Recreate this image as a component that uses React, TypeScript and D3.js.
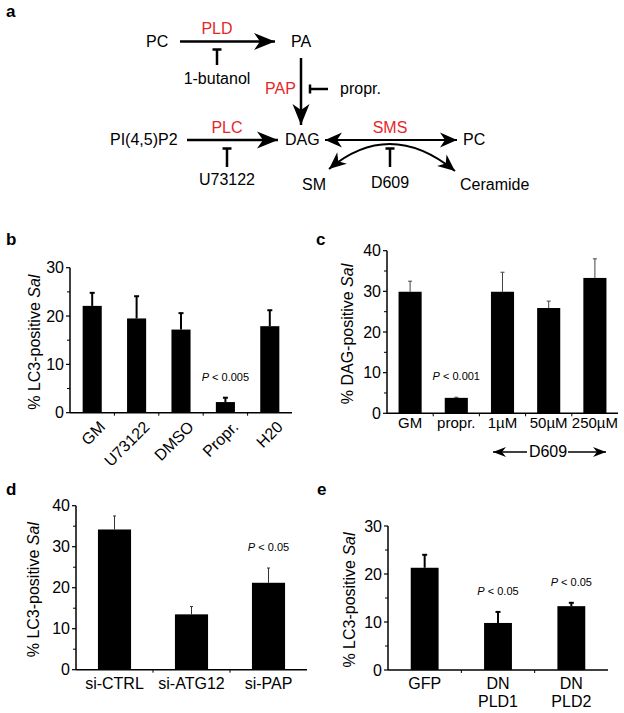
import React from 'react';
import * as d3 from 'd3';

// panel b
const bCats = ['GM', 'U73122', 'DMSO', 'Propr.', 'H20'];
const bVals = [22.1, 19.5, 17.2, 2.2, 17.9];
const bErr = [2.7, 4.6, 3.4, 0.9, 3.3];
const bTicks = [0, 10, 20, 30];

// panel c
const cCats = ['GM', 'propr.', '1µM', '50µM', '250µM'];
const cVals = [29.9, 3.8, 29.9, 25.9, 33.3];
const cErr = [2.6, 0.15, 4.8, 1.7, 4.7];
const cTicks = [0, 10, 20, 30, 40];

// panel d
const dCats = ['si-CTRL', 'si-ATG12', 'si-PAP'];
const dVals = [34.2, 13.5, 21.2];
const dErr = [3.3, 1.9, 3.6];
const dTicks = [0, 10, 20, 30, 40];

// panel e
const eCats = ['GFP', 'DN|PLD1', 'DN|PLD2'];
const eVals = [21.3, 9.8, 13.3];
const eErr = [2.7, 2.3, 0.7];
const eTicks = [0, 10, 20, 30];

const FONT = '"Liberation Sans", Arial, Helvetica, sans-serif';
const RED = '#e8252b';

type PanelProps = {
  cats: string[];
  vals: number[];
  errs: number[];
  ticks: number[];
  pvals: (string | null)[];
  x0: number;
  x1: number;
  yBottom: number;
  yTop: number;
  pad: number;
  ylabel: string;
  ylabelX: number;
  rotateLabels?: boolean;
  labelY: number;
  labelSize?: number;
  errW: number;
  capW: number;
  errColor: string;
};

const Panel = (p: PanelProps) => {
  const max = p.ticks[p.ticks.length - 1];
  const y = d3.scaleLinear().domain([0, max]).range([p.yBottom, p.yTop]);
  const x = d3
    .scaleBand()
    .domain(p.cats)
    .range([p.x0, p.x1])
    .paddingInner(p.pad)
    .paddingOuter(p.pad / 2);
  const step = x.step();
  const bw = x.bandwidth();
  // minor ticks halfway between the labelled ones
  const minor = d3.range(5, max, 10);
  const ls = p.labelSize || 16;

  return (
    <g>
      {p.cats.map((c, i) => {
        const bx = x(c) as number;
        const cx = bx + bw / 2;
        const top = y(p.vals[i] + p.errs[i]);
        return (
          <g key={c}>
            <line x1={cx} x2={cx} y1={y(p.vals[i])} y2={top} stroke={p.errColor} strokeWidth={p.errW} />
            <line x1={cx - p.capW / 2} x2={cx + p.capW / 2} y1={top} y2={top} stroke={p.errColor} strokeWidth={p.errW} />
            <rect x={bx} y={y(p.vals[i])} width={bw} height={p.yBottom - y(p.vals[i])} fill="#000" />
            {p.pvals[i] && (
              <text x={cx} y={top - 17} textAnchor="middle" fontSize={11}>
                <tspan fontStyle="italic">P</tspan>
                {' < ' + p.pvals[i]}
              </text>
            )}
          </g>
        );
      })}
      {/* y axis */}
      <line x1={p.x0} x2={p.x0} y1={p.yBottom} y2={p.yTop} stroke="#000" strokeWidth={1.5} />
      {p.ticks.map((t) => (
        <g key={t}>
          <line x1={p.x0 - 4} x2={p.x0} y1={y(t)} y2={y(t)} stroke="#000" strokeWidth={1.2} />
          <text x={p.x0 - 6} y={y(t)} dy="0.36em" textAnchor="end" fontSize={16}>
            {t}
          </text>
        </g>
      ))}
      {minor.map((t) => (
        <line key={'m' + t} x1={p.x0 - 3} x2={p.x0} y1={y(t)} y2={y(t)} stroke="#000" strokeWidth={1} />
      ))}
      {/* x axis */}
      <line x1={p.x0} x2={p.x1} y1={p.yBottom} y2={p.yBottom} stroke="#000" strokeWidth={1.5} />
      {d3.range(1, p.cats.length).map((i) => (
        <line key={i} x1={p.x0 + i * step} x2={p.x0 + i * step} y1={p.yBottom} y2={p.yBottom + 3} stroke="#000" strokeWidth={1} />
      ))}
      {p.cats.map((c) => {
        const cx = (x(c) as number) + bw / 2;
        if (p.rotateLabels) {
          return (
            <text key={c} transform={`translate(${cx + 6},${p.labelY}) rotate(-45)`} textAnchor="end" dy="0.7em" fontSize={ls}>
              {c}
            </text>
          );
        }
        return (
          <text key={c} x={cx} y={p.labelY} textAnchor="middle" fontSize={ls}>
            {c.split('|').map((s, k) => (
              <tspan key={k} x={cx} dy={k === 0 ? 0 : 18}>
                {s}
              </tspan>
            ))}
          </text>
        );
      })}
      <text
        transform={`translate(${p.ylabelX},${(p.yBottom + p.yTop) / 2 + 2}) rotate(-90)`}
        textAnchor="middle"
        fontSize={16}
      >
        {p.ylabel + ' '}
        <tspan fontStyle="italic">Sal</tspan>
      </text>
    </g>
  );
};

const Diagram = () => {
  const lw = 2.5;
  return (
    <g fontSize={16}>
      <defs>
        <marker id="ah" viewBox="-22 -10 24 20" refX={0} refY={0} markerWidth={24} markerHeight={20} markerUnits="userSpaceOnUse" orient="auto-start-reverse">
          <path d="M0,0 L-21,-8.5 L-15,0 L-21,8.5 Z" fill="#000" />
        </marker>
        <marker id="ahs" viewBox="-18 -9 20 18" refX={0} refY={0} markerWidth={20} markerHeight={18} markerUnits="userSpaceOnUse" orient="auto-start-reverse">
          <path d="M0,0 L-17,-7.5 L-12,0 L-17,7.5 Z" fill="#000" />
        </marker>
        <marker id="ahc" viewBox="-14 -7 16 14" refX={0} refY={0} markerWidth={16} markerHeight={14} markerUnits="userSpaceOnUse" orient="auto-start-reverse">
          <path d="M0,0 L-13,-5 L-9,0 L-13,5 Z" fill="#000" />
        </marker>
      </defs>
      {/* PC -> PA */}
      <text x={146} y={47}>PC</text>
      <text x={217} y={34} fill={RED} textAnchor="middle">PLD</text>
      <line x1={180} y1={41.5} x2={275} y2={41.5} stroke="#000" strokeWidth={lw} markerEnd="url(#ah)" />
      <text x={291} y={47}>PA</text>
      <line x1={217} y1={49.5} x2={217} y2={65} stroke="#000" strokeWidth={lw} />
      <line x1={212.5} y1={49.5} x2={221.5} y2={49.5} stroke="#000" strokeWidth={lw} />
      <text x={217} y={84} textAnchor="middle">1-butanol</text>
      {/* PA -> DAG */}
      <line x1={301} y1={58} x2={301} y2={125} stroke="#000" strokeWidth={lw} markerEnd="url(#ah)" />
      <text x={265} y={94} fill={RED}>PAP</text>
      <line x1={310} y1={89} x2={328} y2={89} stroke="#000" strokeWidth={lw} />
      <line x1={310} y1={84.5} x2={310} y2={93.5} stroke="#000" strokeWidth={lw} />
      <text x={340} y={94}>propr.</text>
      {/* PIP2 -> DAG */}
      <text x={110} y={145}>PI(4,5)P2</text>
      <text x={227} y={133} fill={RED} textAnchor="middle">PLC</text>
      <line x1={187} y1={140} x2={278} y2={140} stroke="#000" strokeWidth={lw} markerEnd="url(#ah)" />
      <line x1={227} y1={148.5} x2={227} y2={167} stroke="#000" strokeWidth={lw} />
      <line x1={222.5} y1={148.5} x2={231.5} y2={148.5} stroke="#000" strokeWidth={lw} />
      <text x={227} y={185} textAnchor="middle">U73122</text>
      <text x={285} y={145}>DAG</text>
      {/* SMS */}
      <text x={390} y={133} fill={RED} textAnchor="middle">SMS</text>
      <line x1={325} y1={140} x2={457} y2={140} stroke="#000" strokeWidth={1.8} markerStart="url(#ahs)" markerEnd="url(#ahs)" />
      <text x={463} y={145}>PC</text>
      <path d="M329,169 Q390,118 455,171" fill="none" stroke="#000" strokeWidth={2} markerStart="url(#ahs)" markerEnd="url(#ahs)" />
      <line x1={390} y1={148.5} x2={390} y2={167} stroke="#000" strokeWidth={lw} />
      <line x1={385.5} y1={148.5} x2={394.5} y2={148.5} stroke="#000" strokeWidth={lw} />
      <text x={390} y={188} textAnchor="middle">D609</text>
      <text x={302} y={190}>SM</text>
      <text x={460} y={190}>Ceramide</text>
    </g>
  );
};

export default function App() {
  return (
    <svg
      width={624}
      height={713}
      style={{ position: 'absolute', left: 0, top: 0, background: '#fff' }}
      fontFamily={FONT}
    >
      <rect width={624} height={713} fill="#fff" />
      <g fontWeight="bold" fontSize={17}>
        <text x={6} y={17}>a</text>
        <text x={6} y={245}>b</text>
        <text x={316} y={245}>c</text>
        <text x={6} y={495}>d</text>
        <text x={317} y={495}>e</text>
      </g>
      <Diagram />
      <Panel
        cats={bCats} vals={bVals} errs={bErr} ticks={bTicks}
        pvals={[null, null, null, '0.005', null]}
        x0={70} x1={292} yBottom={412.7} yTop={267.7} pad={0.57}
        ylabel="% LC3-positive" ylabelX={40} rotateLabels labelY={420}
        errW={2} capW={5} errColor="#000"
      />
      <Panel
        cats={cCats} vals={cVals} errs={cErr} ticks={cTicks}
        pvals={[null, '0.001', null, null, null]}
        x0={387} x1={618} yBottom={413.3} yTop={250.7} pad={0.5}
        ylabel="% DAG-positive" ylabelX={353} labelY={428} labelSize={15}
        errW={1} capW={4} errColor="#444"
      />
      <Panel
        cats={dCats} vals={dVals} errs={dErr} ticks={dTicks}
        pvals={[null, null, '0.05']}
        x0={76} x1={307} yBottom={669.7} yTop={505.7} pad={0.57}
        ylabel="% LC3-positive" ylabelX={39} labelY={689}
        errW={1} capW={3} errColor="#333"
      />
      <Panel
        cats={eCats} vals={eVals} errs={eErr} ticks={eTicks}
        pvals={[null, '0.05', '0.05']}
        x0={388} x1={608} yBottom={670} yTop={526} pad={0.62}
        ylabel="% LC3-positive" ylabelX={355} labelY={689}
        errW={2} capW={5} errColor="#000"
      />
      {/* D609 bracket under panel c */}
      <g>
        <line x1={493} x2={527} y1={452} y2={452} stroke="#000" strokeWidth={1.5} markerStart="url(#ahc)" />
        <line x1={568} x2={606} y1={452} y2={452} stroke="#000" strokeWidth={1.5} markerEnd="url(#ahc)" />
        <text x={548} y={457} textAnchor="middle" fontSize={16}>D609</text>
      </g>
    </svg>
  );
}
